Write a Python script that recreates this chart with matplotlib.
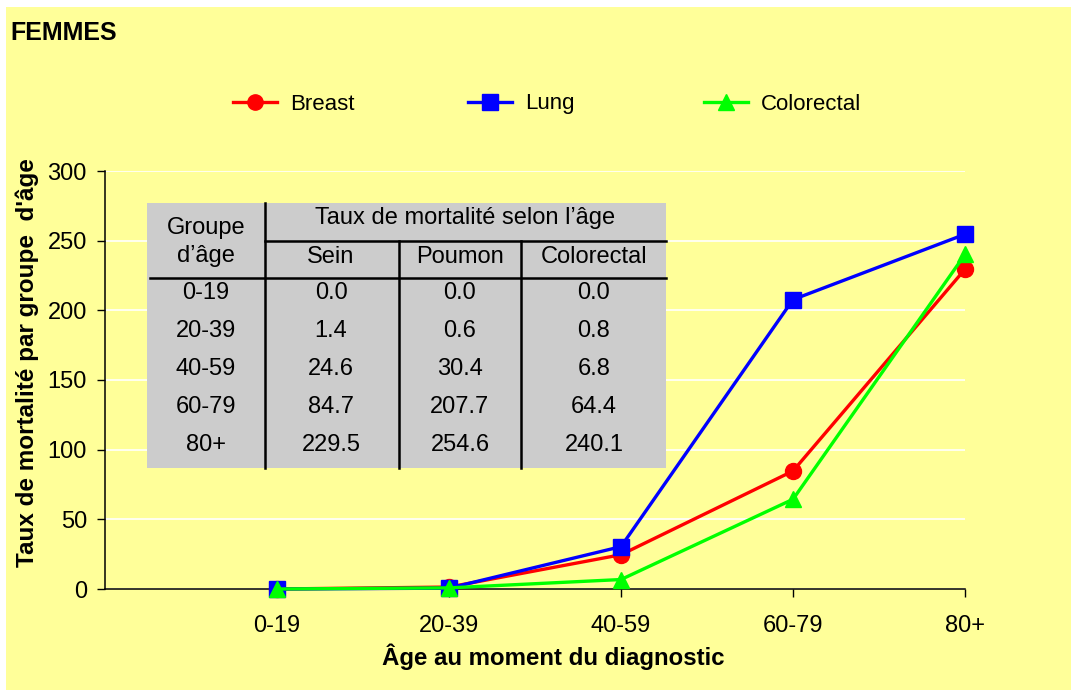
import matplotlib
matplotlib.use("Agg")
import matplotlib.pyplot as plt
from matplotlib.patches import Rectangle
from matplotlib.lines import Line2D

plt.rcParams['font.family'] = ['Liberation Sans', 'DejaVu Sans']

# donnees
ages = ['0-19', '20-39', '40-59', '60-79', '80+']
breast = [0.0, 1.4, 24.6, 84.7, 229.5]
lung = [0.0, 0.6, 30.4, 207.7, 254.6]
colorectal = [0.0, 0.8, 6.8, 64.4, 240.1]
series_names = ['Breast', 'Lung', 'Colorectal']
table_cols = ['Sein', 'Poumon', 'Colorectal']
y_ticks = [0, 50, 100, 150, 200, 250, 300]

W, H = 1071, 690
YELLOW = '#FFFF99'


def fx(x):
    return x / W


def fy(y):
    return 1 - y / H


fig = plt.figure(figsize=(W / 100, H / 100), dpi=100, facecolor='white')
fig.patches.append(Rectangle((fx(6), 0), 1 - fx(6), fy(7), transform=fig.transFigure,
                             facecolor=YELLOW, edgecolor='none', zorder=-10))

ax = fig.add_axes([fx(105), fy(589), fx(965) - fx(105), fy(171) - fy(589)])
ax.set_facecolor(YELLOW)
ax.patch.set_alpha(0)

x = list(range(len(ages)))
styles = [('red', 'o', breast), ('blue', 's', lung), ('#00FF00', '^', colorectal)]
for col, mk, vals in styles:
    ax.plot(x, vals, color=col, lw=2.4, marker=mk, ms=11 if mk != 'o' else 11.5,
            markeredgecolor=col, zorder=3, clip_on=False)

ax.set_xlim(-1, 4)
ax.set_ylim(0, 300)
ax.set_yticks(y_ticks)
ax.set_xticks(x)
ax.set_xticklabels(ages)
ax.grid(axis='y', color='white', lw=1.2, zorder=0)
ax.set_axisbelow(True)
for s in ['top', 'right']:
    ax.spines[s].set_visible(False)
for s in ['left', 'bottom']:
    ax.spines[s].set_linewidth(1.1)
ax.tick_params(axis='y', length=6, width=1, labelsize=17, pad=7)
ax.tick_params(axis='x', length=6, width=1, labelsize=17, pad=13)

fig.text(fx(10), fy(33), 'FEMMES', fontsize=18, fontweight='bold', va='center', ha='left')
fig.text(fx(27), fy(363), "Taux de mortalité par groupe  d'âge", rotation=90,
         fontsize=17.5, fontweight='bold', ha='center', va='center')
fig.text(fx(553), fy(657), 'Âge au moment du diagnostic', fontsize=17.3,
         fontweight='bold', ha='center', va='center')

# legende
leg_x = [233, 468, 704]
for (col, mk, _), name, lx in zip(styles, series_names, leg_x):
    h = Line2D([], [], color=col, lw=2.4, marker=mk, ms=11, markeredgecolor=col)
    fig.legend([h], [name], loc='center left', bbox_to_anchor=(fx(lx), fy(104)),
               frameon=False, fontsize=16, handlelength=2.0, handletextpad=0.55,
               borderpad=0, borderaxespad=0)

# tableau
tl, tr, tt, tb = 147, 666, 203, 468
fig.patches.append(Rectangle((fx(tl), fy(tb)), fx(tr) - fx(tl), fy(tt) - fy(tb),
                             transform=fig.transFigure, facecolor='#CCCCCC',
                             edgecolor='none', zorder=5))


def hline(x0, x1, y, lw):
    fig.lines.append(Line2D([fx(x0), fx(x1)], [fy(y), fy(y)], transform=fig.transFigure,
                            color='black', lw=lw, zorder=6))


def vline(x, y0, y1, lw):
    fig.lines.append(Line2D([fx(x), fx(x)], [fy(y0), fy(y1)], transform=fig.transFigure,
                            color='black', lw=lw, zorder=6))


hline(150, tr, 278, 1.8)
hline(265, tr, 241, 1.8)
vline(265, tt, tb, 1.8)
vline(399, 241, tb, 1.8)
vline(521, 241, tb, 1.8)

tfs = 17
col_x = [331, 460, 594]
row_y = [293, 331, 369, 407, 445]
fig.text(fx(206), fy(228), 'Groupe', fontsize=tfs, ha='center', va='center', zorder=7)
fig.text(fx(206), fy(256), 'd’âge', fontsize=tfs, ha='center', va='center', zorder=7)
fig.text(fx(465), fy(218), 'Taux de mortalité selon l’âge', fontsize=tfs,
         ha='center', va='center', zorder=7)
for cx, c in zip(col_x, table_cols):
    fig.text(fx(cx), fy(257), c, fontsize=tfs, ha='center', va='center', zorder=7)
for i, a in enumerate(ages):
    fig.text(fx(206), fy(row_y[i]), a, fontsize=tfs, ha='center', va='center', zorder=7)
    for cx, vals in zip(col_x, [breast, lung, colorectal]):
        fig.text(fx(cx), fy(row_y[i]), f'{vals[i]:.1f}', fontsize=tfs,
                 ha='center', va='center', zorder=7)

fig.savefig('out.png', dpi=100, facecolor='white')
